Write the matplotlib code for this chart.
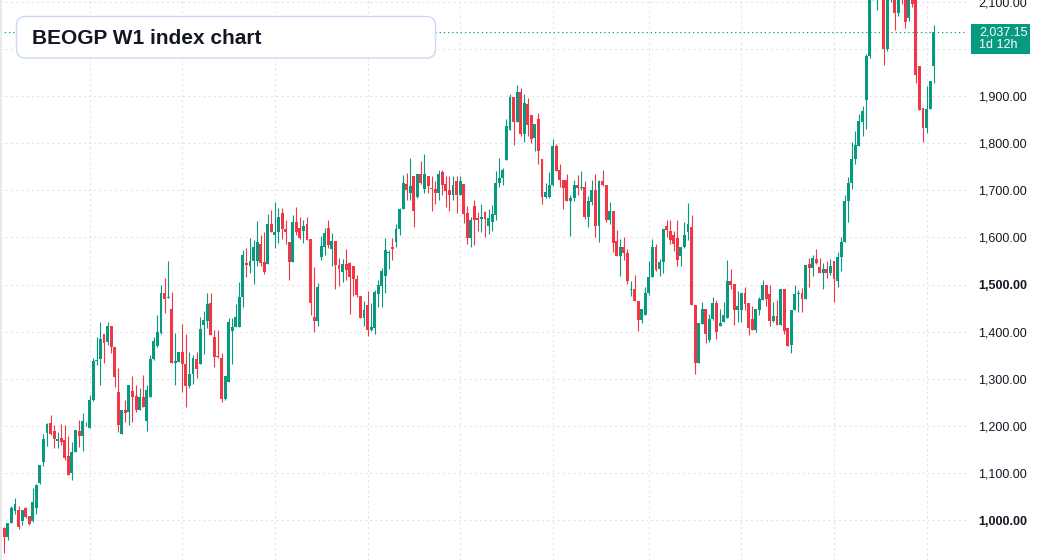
import matplotlib
matplotlib.use("Agg")
import matplotlib.pyplot as plt
from matplotlib.patches import FancyBboxPatch, Rectangle
import numpy as np
import pandas as pd

plt.rcParams['font.family'] = ['Liberation Sans', 'DejaVu Sans']

title = "BEOGP W1 index chart"
last_price = 2037.15
countdown = "1d 12h"
price_ticks = [1000, 1100, 1200, 1300, 1400, 1500, 1600, 1700, 1800, 1900, 2000, 2100]
bold_ticks = [1000, 1500]
hidden_ticks = [2000]  # covered by the last-price label
start_date = "2020-07-19"

opens = [984, 964, 994, 1019, 1022, 998, 1026, 1009, 998, 1025,
         1079, 1124, 1185, 1205, 1190, 1168, 1175, 1170, 1135, 1100,
         1145, 1190, 1179, 1205, 1196, 1255, 1338, 1341, 1394, 1377,
         1413, 1367, 1272, 1183, 1233, 1229, 1274, 1264, 1233, 1262,
         1211, 1262, 1342, 1370, 1397, 1483, 1472, 1449, 1334, 1335,
         1356, 1332, 1285, 1311, 1342, 1332, 1414, 1422, 1460, 1388,
         1348, 1345, 1257, 1294, 1401, 1410, 1410, 1474, 1545, 1540,
         1550, 1550, 1586, 1547, 1543, 1628, 1606, 1611, 1651, 1618,
         1591, 1547, 1633, 1620, 1613, 1628, 1596, 1432, 1423, 1558,
         1580, 1620, 1575, 1593, 1541, 1527, 1543, 1545, 1539, 1511,
         1476, 1428, 1457, 1404, 1407, 1480, 1497, 1519, 1568, 1579,
         1591, 1619, 1660, 1714, 1695, 1731, 1685, 1734, 1702, 1730,
         1705, 1703, 1695, 1739, 1713, 1700, 1690, 1720, 1690, 1714,
         1651, 1599, 1667, 1641, 1639, 1653, 1624, 1633, 1648, 1716,
         1726, 1764, 1829, 1898, 1846, 1908, 1820, 1884, 1859, 1811,
         1851, 1767, 1685, 1685, 1711, 1795, 1744, 1723, 1723, 1677,
         1684, 1712, 1706, 1708, 1643, 1675, 1701, 1624, 1720, 1712,
         1636, 1656, 1593, 1560, 1579, 1567, 1489, 1490, 1466, 1424,
         1435, 1481, 1516, 1579, 1532, 1548, 1624, 1613, 1605, 1598,
         1560, 1579, 1612, 1623, 1456, 1334, 1416, 1449, 1383, 1426,
         1461, 1413, 1421, 1430, 1507, 1502, 1446, 1446, 1482, 1460,
         1426, 1404, 1447, 1467, 1500, 1479, 1423, 1433, 1415, 1490,
         1407, 1372, 1447, 1479, 1481, 1469, 1543, 1535, 1554, 1538,
         1524, 1532, 1524, 1551, 1508, 1559, 1590, 1677, 1715, 1766,
         1794, 1845, 1892, 1985, 2125, 2150, 2175, 2140, 2001, 2120,
         2135, 2077, 2120, 2110, 2065, 2120, 2110, 1963, 1874, 1832,
         1872, 1963]

highs = [985, 994, 1029, 1047, 1030, 1022, 1027, 1009, 1067, 1076,
         1116, 1182, 1207, 1222, 1201, 1187, 1203, 1201, 1179, 1166,
         1192, 1213, 1227, 1208, 1265, 1343, 1389, 1420, 1394, 1420,
         1413, 1367, 1323, 1233, 1255, 1287, 1306, 1286, 1280, 1307,
         1286, 1350, 1389, 1436, 1500, 1513, 1551, 1484, 1398, 1356,
         1416, 1396, 1357, 1350, 1357, 1431, 1444, 1483, 1481, 1403,
         1403, 1354, 1306, 1428, 1428, 1458, 1506, 1573, 1577, 1599,
         1595, 1634, 1605, 1612, 1650, 1658, 1675, 1663, 1663, 1636,
         1591, 1647, 1665, 1643, 1636, 1643, 1596, 1537, 1504, 1604,
         1620, 1638, 1610, 1593, 1557, 1555, 1576, 1548, 1539, 1520,
         1476, 1464, 1486, 1461, 1488, 1509, 1536, 1598, 1573, 1598,
         1629, 1663, 1732, 1736, 1769, 1731, 1734, 1762, 1777, 1730,
         1730, 1720, 1744, 1744, 1730, 1730, 1730, 1730, 1730, 1714,
         1667, 1644, 1679, 1653, 1670, 1656, 1661, 1668, 1742, 1769,
         1747, 1851, 1905, 1898, 1924, 1917, 1905, 1896, 1859, 1841,
         1864, 1767, 1716, 1738, 1810, 1799, 1757, 1723, 1735, 1691,
         1721, 1733, 1741, 1720, 1687, 1723, 1735, 1723, 1744, 1712,
         1676, 1656, 1616, 1596, 1600, 1576, 1507, 1520, 1466, 1449,
         1495, 1550, 1596, 1587, 1555, 1617, 1637, 1638, 1614, 1637,
         1579, 1633, 1674, 1648, 1456, 1419, 1462, 1449, 1437, 1474,
         1467, 1449, 1463, 1553, 1532, 1502, 1486, 1482, 1495, 1460,
         1455, 1449, 1474, 1509, 1500, 1499, 1463, 1467, 1490, 1490,
         1407, 1447, 1500, 1488, 1492, 1542, 1557, 1563, 1575, 1557,
         1545, 1549, 1554, 1551, 1570, 1602, 1691, 1729, 1803, 1827,
         1863, 1880, 1990, 2150, 2185, 2200, 2190, 2150, 2170, 2160,
         2150, 2140, 2140, 2125, 2140, 2140, 2120, 1963, 1874, 1921,
         1932, 2051]

lows = [930, 957, 993, 1012, 980, 990, 1005, 989, 996, 1012,
        1076, 1114, 1158, 1180, 1152, 1152, 1159, 1128, 1095, 1086,
        1144, 1154, 1147, 1200, 1195, 1253, 1330, 1287, 1334, 1371,
        1355, 1282, 1187, 1182, 1208, 1201, 1208, 1230, 1233, 1240,
        1190, 1261, 1340, 1367, 1396, 1440, 1471, 1334, 1287, 1335,
        1271, 1241, 1281, 1288, 1301, 1332, 1352, 1407, 1393, 1325,
        1343, 1251, 1255, 1294, 1332, 1410, 1410, 1453, 1517, 1525,
        1501, 1540, 1540, 1522, 1543, 1611, 1577, 1589, 1596, 1586,
        1510, 1547, 1606, 1596, 1588, 1595, 1435, 1400, 1413, 1553,
        1562, 1577, 1540, 1490, 1497, 1506, 1509, 1438, 1476, 1473,
        1428, 1413, 1391, 1402, 1395, 1453, 1453, 1483, 1534, 1553,
        1580, 1606, 1660, 1680, 1679, 1622, 1683, 1713, 1695, 1695,
        1656, 1670, 1679, 1690, 1665, 1656, 1679, 1651, 1690, 1631,
        1586, 1580, 1583, 1614, 1611, 1602, 1608, 1613, 1636, 1707,
        1712, 1764, 1829, 1797, 1846, 1815, 1802, 1815, 1800, 1783,
        1757, 1671, 1684, 1684, 1709, 1742, 1707, 1661, 1677, 1603,
        1677, 1690, 1700, 1640, 1622, 1668, 1600, 1591, 1710, 1633,
        1629, 1569, 1560, 1518, 1552, 1502, 1476, 1465, 1401, 1419,
        1435, 1477, 1515, 1529, 1518, 1525, 1601, 1587, 1572, 1539,
        1539, 1577, 1594, 1456, 1309, 1334, 1416, 1376, 1378, 1425,
        1385, 1413, 1421, 1430, 1490, 1415, 1420, 1420, 1446, 1393,
        1404, 1400, 1435, 1467, 1455, 1411, 1420, 1415, 1415, 1394,
        1370, 1354, 1446, 1442, 1442, 1469, 1494, 1518, 1543, 1524,
        1491, 1513, 1520, 1463, 1494, 1529, 1590, 1632, 1703, 1755,
        1794, 1815, 1830, 1980, 2105, 2082, 2110, 1966, 1995, 2100,
        2040, 2070, 2095, 2044, 2060, 2090, 1927, 1871, 1803, 1822,
        1872, 1928]

closes = [964, 994, 1026, 1034, 985, 1022, 1007, 991, 1039, 1074,
          1116, 1173, 1203, 1183, 1172, 1173, 1166, 1131, 1096, 1145,
          1192, 1179, 1211, 1206, 1255, 1338, 1340, 1385, 1375, 1412,
          1367, 1303, 1201, 1233, 1228, 1287, 1262, 1233, 1262, 1240,
          1277, 1342, 1381, 1399, 1483, 1470, 1473, 1334, 1338, 1356,
          1332, 1285, 1311, 1345, 1321, 1405, 1424, 1458, 1393, 1347,
          1346, 1257, 1306, 1421, 1410, 1431, 1474, 1562, 1542, 1551,
          1579, 1591, 1545, 1527, 1628, 1611, 1612, 1643, 1618, 1611,
          1547, 1633, 1611, 1599, 1625, 1595, 1460, 1423, 1494, 1581,
          1610, 1585, 1593, 1541, 1533, 1543, 1531, 1517, 1511, 1478,
          1430, 1445, 1404, 1409, 1485, 1499, 1529, 1573, 1569, 1575,
          1619, 1660, 1716, 1700, 1710, 1657, 1734, 1716, 1734, 1709,
          1703, 1695, 1734, 1711, 1699, 1690, 1711, 1690, 1720, 1649,
          1599, 1637, 1637, 1637, 1644, 1639, 1641, 1650, 1716, 1727,
          1744, 1836, 1899, 1846, 1908, 1820, 1886, 1838, 1810, 1841,
          1783, 1685, 1696, 1712, 1795, 1742, 1721, 1704, 1677, 1684,
          1712, 1706, 1708, 1643, 1677, 1701, 1624, 1720, 1712, 1636,
          1656, 1588, 1560, 1579, 1567, 1507, 1490, 1465, 1424, 1449,
          1483, 1516, 1579, 1530, 1548, 1617, 1616, 1594, 1586, 1552,
          1579, 1605, 1628, 1456, 1334, 1419, 1449, 1396, 1426, 1461,
          1399, 1418, 1436, 1507, 1500, 1446, 1455, 1482, 1458, 1408,
          1404, 1449, 1469, 1500, 1469, 1423, 1433, 1415, 1490, 1401,
          1370, 1447, 1479, 1481, 1469, 1542, 1535, 1557, 1545, 1524,
          1532, 1524, 1540, 1512, 1559, 1591, 1678, 1716, 1767, 1796,
          1847, 1868, 1986, 2130, 2160, 2175, 2140, 2001, 2150, 2135,
          2077, 2120, 2110, 2058, 2120, 2095, 1945, 1871, 1832, 1872,
          1932, 2037.15]

UP = "#089981"
DOWN = "#F23645"
GRID = "#e0e3eb"
TEXT = "#131722"

o = np.array(opens, float)
h = np.array(highs, float)
l = np.array(lows, float)
c = np.array(closes, float)
n = len(o)
x = np.arange(n)
dates = pd.date_range(start_date, periods=n, freq="W-SUN")

W, H = 1037, 560
fig = plt.figure(figsize=(W / 100, H / 100), dpi=100)
fig.patch.set_facecolor("white")
plot_right = 966
ax = fig.add_axes([0, 0, plot_right / W, 1])
ax.set_facecolor("white")

step = 3.561
x0 = 4.3
ax.set_xlim(-x0 / step, (plot_right - x0) / step)
ax.set_ylim(915.1, 2104.2)

# grid
for v in price_ticks:
    ax.axhline(v, color=GRID, lw=0.75, ls=(0, (2, 3)), zorder=0)
grid_idx = [i for i, d in enumerate(dates) if d.month in (1, 7) and d.day <= 7]
for i in grid_idx:
    ax.axvline(i, color=GRID, lw=0.75, ls=(0, (2, 3)), zorder=0)

# candles
up = c >= o
colors = np.where(up, UP, DOWN)
ax.vlines(x, l, h, colors=colors, lw=0.8, zorder=2)
bottom = np.minimum(o, c)
height = np.maximum(np.abs(c - o), 1.8)
ax.bar(x, height, bottom=bottom, width=0.82, color=colors, linewidth=0, zorder=3)

# last price line
ax.axhline(last_price, color=UP, lw=0.8, ls=(0, (1.2, 2.6)), zorder=1)

# right axis labels
ax.yaxis.tick_right()
ax.set_yticks(price_ticks)
ax.set_yticklabels(["" if v in hidden_ticks else f"{v:,.2f}" for v in price_ticks])
ax.tick_params(axis="y", length=0, pad=8.6, labelsize=9, labelcolor=TEXT)
for lab, v in zip(ax.get_yticklabels(), price_ticks):
    if v in bold_ticks:
        lab.set_fontweight("bold")
ax.set_xticks([])
for s in ["top", "right", "bottom"]:
    ax.spines[s].set_visible(False)
ax.spines["left"].set_color("#e6e8ec")
ax.spines["left"].set_linewidth(2)

# price label box
trans = fig.dpi_scale_trans
fig.patches.append(Rectangle((971 / 100, (H - 54) / 100), 59 / 100, 30 / 100,
                             transform=trans, facecolor=UP, edgecolor="none", zorder=5))
fig.text(979 / 100, (H - 32.5) / 100, f"{last_price:,.2f}", transform=trans,
         color="white", fontsize=9, va="center", ha="left", zorder=6)
fig.text(979 / 100, (H - 45.5) / 100, countdown, transform=trans,
         color="white", fontsize=9, va="center", ha="left", zorder=6)

# title box
box = FancyBboxPatch((16.5 / 100, (H - 58) / 100), 419 / 100, 41.5 / 100,
                     boxstyle="round,pad=0,rounding_size=0.09", transform=trans,
                     facecolor="white", edgecolor="#c9daf2", lw=1, zorder=5)
fig.patches.append(box)
fig.text(32 / 100, (H - 38.5) / 100, title, transform=trans, color=TEXT,
         fontsize=15, fontweight="bold", va="center", ha="left", zorder=6)

fig.savefig("out.png", dpi=100, facecolor="white")
